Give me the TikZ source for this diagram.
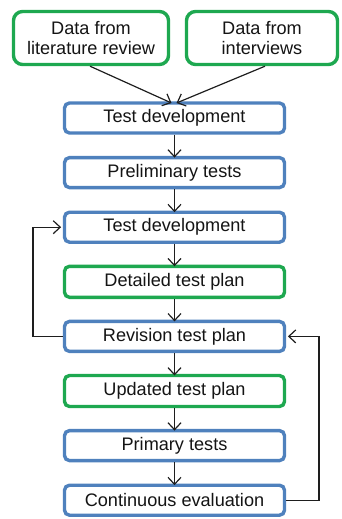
\documentclass[tikz,border=0pt]{standalone}
\usepackage{fontspec}
\setmainfont{Liberation Sans}
\usetikzlibrary{arrows.meta}
\definecolor{boxblue}{RGB}{79,129,189}
\definecolor{boxgreen}{RGB}{30,168,80}
\definecolor{txt}{RGB}{20,20,20}
\definecolor{lin}{RGB}{30,30,30}
\tikzset{
  base/.style={draw, line width=3.4bp, fill=white, text=txt, align=center,
    font=\fontsize{18.2}{20}\selectfont, inner sep=0pt},
  bluebox/.style={base, draw=boxblue, rounded corners=5bp, minimum width=220bp, minimum height=30bp},
  greenbox/.style={base, draw=boxgreen, rounded corners=5bp, minimum width=220bp, minimum height=31bp},
  topbox/.style={base, draw=boxgreen, rounded corners=9bp, minimum height=53bp},
  conn/.style={draw=lin, line width=1.2bp, -{Straight Barb[length=7bp,width=13bp]}}
}
\begin{document}
\begin{tikzpicture}[x=1bp,y=-1bp]
\useasboundingbox (0,0) rectangle (341,519);
\node[topbox, minimum width=155bp] (lit) at (91,38) {Data from\\literature review};
\node[topbox, minimum width=151bp] (int) at (262,38) {Data from\\interviews};
\node[bluebox] (td1) at (174.5,118) {Test development};
\node[bluebox] (pre) at (174.5,172.6) {Preliminary tests};
\node[bluebox] (td2) at (174.5,227.2) {Test development};
\node[greenbox] (det) at (174.5,281.8) {Detailed test plan};
\node[bluebox] (rev) at (174.5,336.4) {Revision test plan};
\node[greenbox] (upd) at (174.5,391) {Updated test plan};
\node[bluebox] (pri) at (174.5,445.6) {Primary tests};
\node[bluebox] (con) at (174.5,500.2) {Continuous evaluation};
\coordinate (l1) at (33,336.4);
\coordinate (l2) at (33,227.2);
\coordinate (r1) at (319,500.2);
\coordinate (r2) at (319,336.4);
\draw[conn] ([xshift=-1bp]lit.south) -- ([xshift=-3bp,yshift=-1.7bp]td1.north);
\draw[conn] ([xshift=3bp]int.south) -- ([xshift=2bp,yshift=-1.7bp]td1.north);
\draw[conn] (td1.south) -- ([yshift=-1.7bp]pre.north);
\draw[conn] (pre.south) -- ([yshift=-1.7bp]td2.north);
\draw[conn] (td2.south) -- ([yshift=-1.7bp]det.north);
\draw[conn] (det.south) -- ([yshift=-1.7bp]rev.north);
\draw[conn] (rev.south) -- ([yshift=-1.7bp]upd.north);
\draw[conn] (upd.south) -- ([yshift=-1.7bp]pri.north);
\draw[conn] (pri.south) -- ([yshift=-1.7bp]con.north);
\draw[conn] (rev.west) -- (l1) -- (l2) -- ([xshift=-1.7bp]td2.west);
\draw[conn] (con.east) -- (r1) -- (r2) -- ([xshift=1.7bp]rev.east);
\end{tikzpicture}
\end{document}
